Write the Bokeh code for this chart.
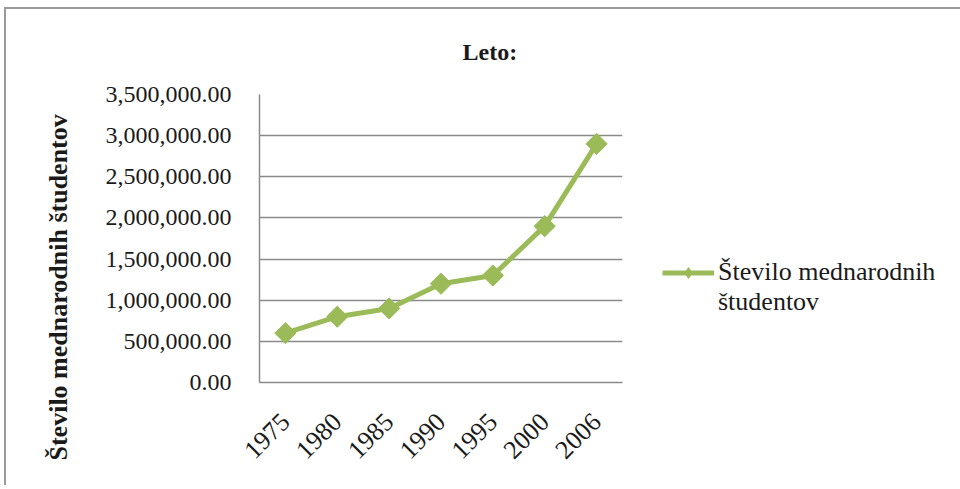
import math
from bokeh.plotting import figure
from bokeh.models import (Range1d, FixedTicker, NumeralTickFormatter, Title,
                          Legend, LegendItem, ColumnDataSource)
from bokeh.embed import file_html
from bokeh.resources import INLINE

years = ["1975", "1980", "1985", "1990", "1995", "2000", "2006"]
students = [600000, 800000, 900000, 1200000, 1300000, 1900000, 2900000]
y_ticks = [0, 500000, 1000000, 1500000, 2000000, 2500000, 3000000, 3500000]
series_name = "Število mednarodnih študentov"
legend_lines = ["Število mednarodnih", "študentov"]
title_text = "Leto:"

GREEN = "#9BBB59"
FONT = "Liberation Serif"
TXT = "#1a1a1a"

W, H = 950, 476
p = figure(width=W, height=H, x_range=years, y_range=Range1d(0, 3500000),
           output_backend="svg", toolbar_location=None,
           min_border_left=253, min_border_right=334,
           min_border_top=85, min_border_bottom=103,
           frame_width=363, frame_height=288)
p.styles = {"border-top": "2px solid #9a9a9a", "border-left": "2px solid #9a9a9a",
            "margin-top": "7px", "margin-left": "4px"}
p.outline_line_color = None
p.background_fill_color = "white"
p.border_fill_color = "white"

src = ColumnDataSource(dict(x=years, y=students))
line = p.line("x", "y", source=src, line_color=GREEN, line_width=5)
pts = p.scatter("x", "y", source=src, marker="square", size=15, angle=math.pi / 4,
                fill_color=GREEN, line_color=GREEN)
# hidden renderers used only for drawing the legend entries
legend_marker = p.scatter("x", "y", source=src, marker="diamond", size=14,
                          fill_color=GREEN, line_color=GREEN, visible=False)
blank = p.scatter(x=[], y=[], alpha=0)

# axes
p.yaxis.ticker = FixedTicker(ticks=y_ticks)
p.yaxis.formatter = NumeralTickFormatter(format="0,0.00")
for ax in (p.xaxis[0], p.yaxis[0]):
    ax.axis_line_color = "#8a8a8a"
    ax.axis_line_width = 1.5
    ax.major_tick_line_color = None
    ax.minor_tick_line_color = None
    ax.major_label_text_font = FONT
    ax.major_label_text_font_size = "24px"
    ax.major_label_text_color = TXT
p.yaxis.major_label_standoff = 22
p.xaxis.major_label_orientation = math.pi / 4
p.xaxis.major_label_standoff = 29
p.xaxis.major_label_text_font_size = "26px"
p.xgrid.grid_line_color = None
p.ygrid.grid_line_color = "#8a8a8a"
p.ygrid.grid_line_width = 1.5
p.ygrid.ticker = FixedTicker(ticks=y_ticks)

# title
p.title.text = title_text
p.title.text_font = FONT
p.title.text_font_style = "bold"
p.title.text_font_size = "24px"
p.title.text_color = TXT
p.title.text_line_height = 1.0
p.title.padding = 0
p.title.align = "left"
p.title.vertical_align = "top"
p.title.offset = 203
p.title.standoff = 56

# y axis title
p.add_layout(Title(text=series_name, text_font=FONT, text_font_style="bold",
                   text_font_size="26px", text_color=TXT, align="left",
                   offset=-78, standoff=59), "left")

# legend
legend = Legend(items=[LegendItem(label=legend_lines[0], renderers=[line, legend_marker]),
                       LegendItem(label=legend_lines[1], renderers=[blank])],
                location=(40, 65), padding=0, margin=0, spacing=0,
                glyph_width=52, glyph_height=27, label_height=27, label_standoff=4,
                label_text_font=FONT, label_text_font_size="26px",
                label_text_color=TXT, inactive_fill_alpha=0,
                border_line_color=None, background_fill_alpha=0)
p.add_layout(legend, "right")

open("out.html", "w").write(file_html(p, INLINE))
